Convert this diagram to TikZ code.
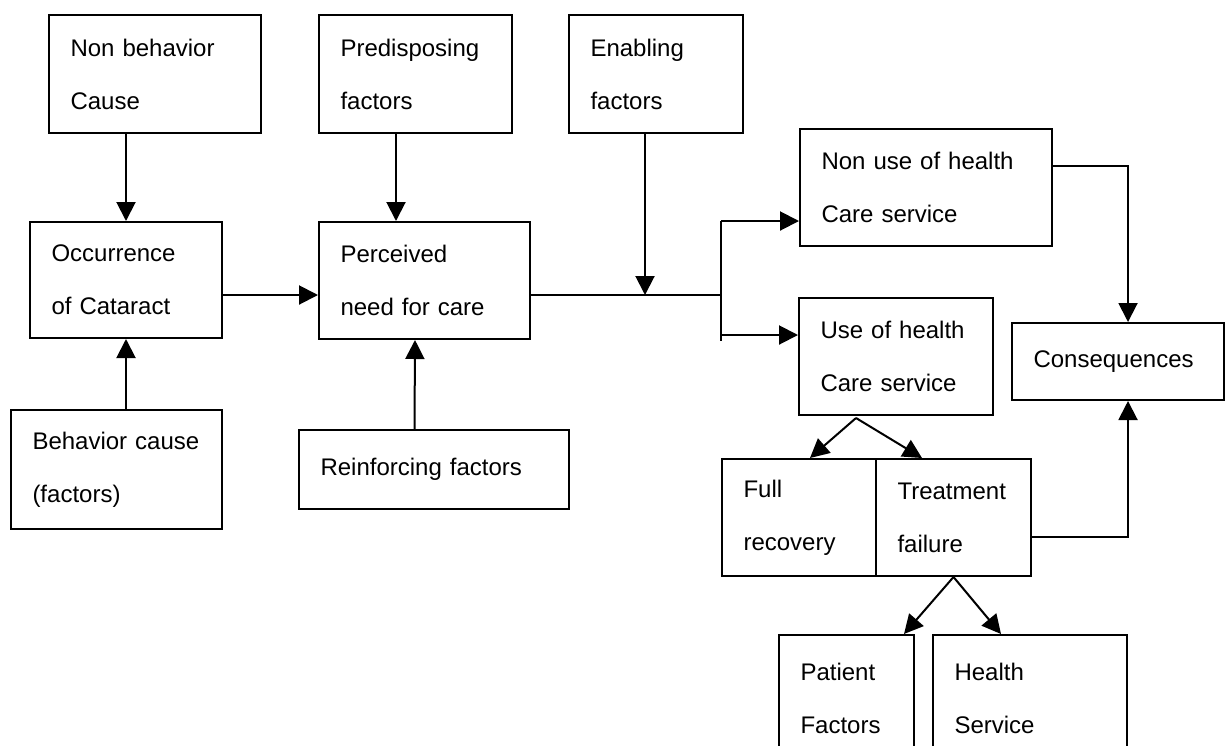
\documentclass[tikz,border=0pt]{standalone}
\usepackage{fontspec}
\setmainfont{Liberation Sans}
\usepackage{tikz}
\usetikzlibrary{arrows.meta}
\pgfdeclarelayer{bg}
\pgfsetlayers{bg,main}
\tikzset{
    box/.style={rectangle, draw, line width=2pt, anchor=north west, align=left,
        inner xsep=21.5pt, inner ysep=3pt, font=\fontsize{24}{53}\selectfont},
    arr/.style={line width=2pt, -{Triangle[length=19pt, width=19pt]}},
    ln/.style={line width=2pt}
}

\begin{document}
\begin{tikzpicture}[x=1pt, y=-1pt]
    \useasboundingbox (0, 0) rectangle (1225, 745);
    \clip (0, 0) rectangle (1225, 745);

    \node (nbc) [box, minimum width=212pt, minimum height=118pt, text width=169pt] at (48, 14) {Non behavior\\Cause};
    \node (pred) [box, minimum width=193pt, minimum height=118pt, text width=150pt] at (318, 14) {Predisposing\\factors};
    \node (enab) [box, minimum width=174pt, minimum height=118pt, text width=131pt] at (568, 14) {Enabling\\factors};

    \node (occ) [box, minimum width=192pt, minimum height=116pt, text width=149pt] at (29, 221) {Occurrence\\of Cataract};
    \node (perc) [box, minimum width=211pt, minimum height=117pt, text width=168pt] at (318, 221) {Perceived\\need for care};

    \node (beh) [box, minimum width=211pt, minimum height=119pt, text width=168pt] at (10, 409) {Behavior cause\\(factors)};
    \node (reinf) [box, minimum width=270pt, minimum height=79pt, text width=227pt] at (298, 429) {Reinforcing factors};

    \node (nonuse) [box, minimum width=252pt, minimum height=117pt, text width=209pt] at (799, 128) {Non use of health\\Care service};
    \node (use) [box, minimum width=194pt, minimum height=117pt, text width=151pt] at (798, 297) {Use of health\\Care service};
    \node (cons) [box, minimum width=212pt, minimum height=77pt, text width=169pt] at (1011, 322) {Consequences};

    \node (full) [box, minimum width=154pt, minimum height=117pt, text width=111pt] at (721, 458) {Full\\recovery};
    \node (fail) [box, minimum width=155pt, minimum height=117pt, text width=112pt] at (875, 458) {Treatment\\failure};

    \node (pat) [box, minimum width=135pt, minimum height=126pt, text width=92pt] at (778, 634) {Patient\\Factors};
    \node (hserv) [box, minimum width=194pt, minimum height=126pt, text width=151pt] at (932, 634) {Health\\Service};

    \coordinate (j1) at (645, 295);
    \coordinate (sp) at (721, 295);
    \coordinate (sp1) at (721, 221);
    \coordinate (sp2) at (721, 335);
    \coordinate (sp3) at (721, 341);
    \coordinate (c1) at (1128, 166);
    \coordinate (c2) at (1128, 537);
    \coordinate (t1) at (856, 418);

    \begin{pgfonlayer}{bg}
        \draw[arr] (nbc.south -| occ.north) -- (occ.north);
        \draw[arr] ([xshift=-19.5pt]pred.south) -- ([xshift=-28.5pt]perc.north);
        \draw[arr] (beh.north -| occ.south) -- (occ.south);
        \draw[arr] ([xshift=-19.5pt]reinf.north) -- ([xshift=-9.5pt]perc.south);

        \draw[arr] (occ.east |- j1) -- (perc.west |- j1);
        \draw[ln] (perc.east |- j1) -- (sp);
        \draw[arr] (enab.south -| j1) -- (j1);
        \draw[ln] (sp1) -- (sp3);
        \draw[arr] (sp1) -- (nonuse.west |- sp1);
        \draw[arr] (sp2) -- (use.west |- sp2);

        \draw[arr] (nonuse.east |- c1) -- (c1) -- (cons.north -| c1);
        \draw[arr] (fail.east |- c2) -- (c2) -- (cons.south -| c2);

        \draw[arr] (t1) -- ([xshift=11pt]full.north);
        \draw[arr] (t1) -- ([xshift=-31.5pt]fail.north);
        \draw[arr] (fail.south) -- ([xshift=57.5pt]pat.north);
        \draw[arr] (fail.south) -- ([xshift=-29pt]hserv.north);
    \end{pgfonlayer}
\end{tikzpicture}
\end{document}
